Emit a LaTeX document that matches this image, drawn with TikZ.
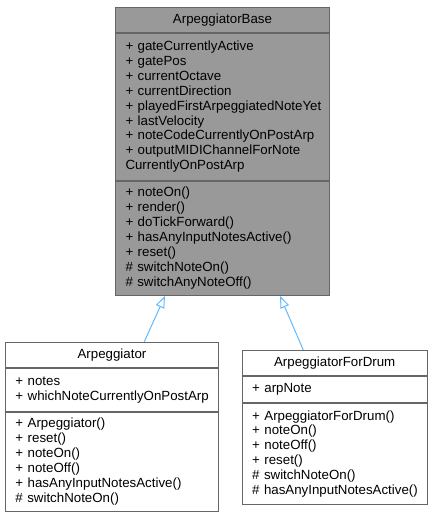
\documentclass[tikz,border=0pt]{standalone}
\usepackage{fontspec}
\setmainfont{Liberation Sans}
\usetikzlibrary{arrows.meta,calc}
\definecolor{boxline}{HTML}{666666}
\definecolor{basefill}{HTML}{999999}
\definecolor{inheritline}{HTML}{63B8FF}
\newcommand{\umlfont}{\fontsize{13.3}{14.9}\selectfont\hyphenpenalty=10000\exhyphenpenalty=10000}
\tikzset{
  part/.style={draw=boxline, line width=1pt, fill=white, inner xsep=10pt, inner ysep=0pt,
    text width=#1, align=left, font=\umlfont, anchor=north},
  headpart/.style={align=center, anchor=north west, minimum height=25.4pt},
  basepart/.style={fill=basefill},
  inherits/.style={draw=inheritline, line width=1pt, -{Triangle[open, length=12pt, width=9pt]}}
}
\begin{document}
\begin{tikzpicture}[x=1pt, y=-1pt]
  \useasboundingbox (0,0) rectangle (432,515);
  % base class
  \node [part=194pt, basepart, headpart] (baseT) at (115,6.5) {ArpeggiatorBase};
  \node [part=194pt, basepart, minimum height=146.6pt] (baseA) at (baseT.south) {+ gateCurrentlyActive\\+ gatePos\\+ currentOctave\\+ currentDirection\\+~playedFirstArpeggiatedNoteYet\\+ lastVelocity\\+ noteCodeCurrentlyOnPostArp\\+ outputMIDIChannelForNote\\CurrentlyOnPostArp};
  \node [part=194pt, basepart, minimum height=114.4pt] (baseM) at (baseA.south) {+ noteOn()\\+ render()\\+ doTickForward()\\+ hasAnyInputNotesActive()\\+ reset()\\\# switchNoteOn()\\\# switchAnyNoteOff()};
  % Arpeggiator
  \node [part=193pt, headpart] (arpT) at (5,341.7) {Arpeggiator};
  \node [part=193pt, minimum height=42.7pt] (arpA) at (arpT.south) {+ notes\\+~whichNoteCurrentlyOnPostArp};
  \node [part=193pt, minimum height=99pt] (arpM) at (arpA.south) {+ Arpeggiator()\\+ reset()\\+ noteOn()\\+ noteOff()\\+ hasAnyInputNotesActive()\\\# switchNoteOn()};
  % ArpeggiatorForDrum
  \node [part=165pt, headpart, minimum height=25pt] (drumT) at (241.7,350) {ArpeggiatorForDrum};
  \node [part=165pt, minimum height=26pt] (drumA) at (drumT.south) {+ arpNote};
  \node [part=165pt, minimum height=100.7pt] (drumM) at (drumA.south) {+ ArpeggiatorForDrum()\\+ noteOn()\\+ noteOff()\\+ reset()\\\# switchNoteOn()\\\#~hasAnyInputNotesActive()};
  % inheritance
  \draw [inherits] ($(arpT.north west)+(139.3,0)$) -- ($(baseM.south west)+(50,0)$);
  \draw [inherits] ($(drumT.north west)+(61.6,0)$) -- ($(baseM.south west)+(165,0)$);
\end{tikzpicture}
\end{document}
